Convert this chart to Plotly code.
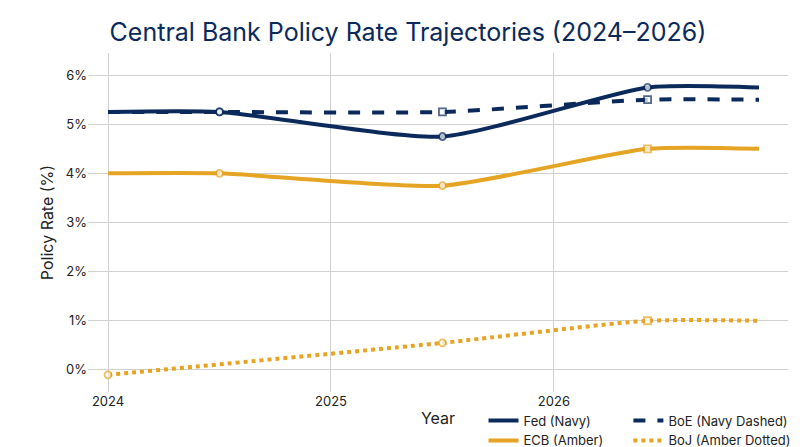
import plotly.graph_objects as go

x_main = [2024.0, 2024.5, 2025.5, 2026.42, 2026.92]
fed = [5.25, 5.25, 4.75, 5.75, 5.75]
boe = [5.25, 5.25, 5.25, 5.5, 5.5]
ecb = [4.0, 4.0, 3.75, 4.5, 4.5]
x_boj = [2024.0, 2025.5, 2026.42, 2026.92]
boj = [-0.1, 0.55, 1.0, 1.0]
tick_vals = [2024, 2025, 2026]
tick_text = ["2024", "2025", "2026"]

NAVY = "#0b2a5b"
AMBER = "#e5a423"

size_main = [0, 7, 7, 7, 0]

fig = go.Figure()
def add(x, y, name, color, dash, syms, sizes, legend):
    fig.add_trace(go.Scatter(
        x=x, y=y, name=name, mode="lines",
        line=dict(color=color, width=4, dash=dash, shape="spline", smoothing=0.6),
        legend=legend))
    fig.add_trace(go.Scatter(
        x=x, y=y, mode="markers", showlegend=False, hoverinfo="skip",
        marker=dict(symbol=syms, size=sizes, color="white", line=dict(color=color, width=1.8))))

add(x_main, fed, "Fed (Navy)", NAVY, "solid", ["circle", "circle", "circle", "circle", "circle"], size_main, "legend")
add(x_main, ecb, "ECB (Amber)", AMBER, "solid", ["circle", "circle", "circle", "square", "circle"], size_main, "legend")
add(x_main, boe, "BoE (Navy Dashed)", NAVY, "dash", ["circle", "circle", "square", "square", "circle"], size_main, "legend2")
add(x_boj, boj, "BoJ (Amber Dotted)", AMBER, "dot", ["circle", "circle", "square", "circle"], [7, 7, 7, 0], "legend2")

fig.update_layout(
    width=800, height=447,
    paper_bgcolor="white", plot_bgcolor="white",
    font=dict(family="Inter, Roboto, sans-serif", size=13, color="#222"),
    title=dict(text="Central Bank Policy Rate Trajectories (2024–2026)", x=0.5, xanchor="center",
               y=0.945, yanchor="middle", font=dict(size=25, color=NAVY)),
    margin=dict(l=80, r=20, t=45, b=63, autoexpand=False),
    xaxis=dict(range=[2023.91, 2027.05], tickvals=tick_vals, ticktext=tick_text, automargin=False,
               showgrid=True, gridcolor="#d0d0d0", zeroline=False,
               title=dict(text="Year", standoff=4), showline=False),
    yaxis=dict(range=[-0.45, 6.45], dtick=1, ticksuffix="%", showgrid=True, gridcolor="#d0d0d0",
               automargin=False, zeroline=False, title=dict(text="Policy Rate (%)", standoff=8)),
    legend=dict(orientation="v", x=0.565, y=-0.04, xanchor="left", yanchor="top",
                bgcolor="rgba(0,0,0,0)", font=dict(size=13), tracegroupgap=0),
    legend2=dict(orientation="v", x=0.772, y=-0.04, xanchor="left", yanchor="top",
                 bgcolor="rgba(0,0,0,0)", font=dict(size=13), tracegroupgap=0),
)
fig.write_html("out.html")
